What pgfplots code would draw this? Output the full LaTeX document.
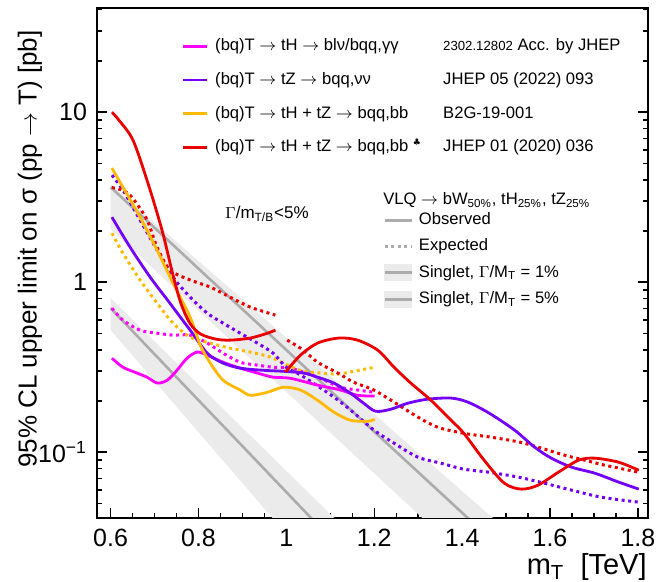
\documentclass[border=0pt]{standalone}
\usepackage{pgfplots}
\pgfplotsset{compat=1.18}
\usepackage{fontspec}
\setmainfont{Liberation Sans}
\newfontfamily\dejavu{DejaVu Sans}
\definecolor{cMag}{RGB}{255,0,255}
\definecolor{cPur}{RGB}{115,0,250}
\definecolor{cOra}{RGB}{255,185,0}
\definecolor{cRed}{RGB}{235,0,0}
\definecolor{cGray}{RGB}{172,172,172}
\definecolor{cBand}{RGB}{235,235,235}
\tikzset{obs/.style={line width=1.4pt, smooth, tension=0.5},
         expd/.style={line width=1.5pt, smooth, tension=0.5, dash pattern=on 1.5pt off 1.8pt}}
\begin{document}
\begin{tikzpicture}
\begin{axis}[
  scale only axis, width=275.5pt, height=255pt,
  xmin=0.569, xmax=1.823, ymin=0.041, ymax=41, ymode=log,
  xtick={0.6,0.8,1,1.2,1.4,1.6,1.8}, xticklabels={0.6,0.8,1,1.2,1.4,1.6,1.8},
  minor xtick={0.65,0.7,0.75,0.85,0.9,0.95,1.05,1.1,1.15,1.25,1.3,1.35,1.45,1.5,1.55,1.65,1.7,1.75},
  ytick={0.1,1,10}, yticklabels={10\textsuperscript{−1},1,10},
  minor ytick={0.05,0.06,0.07,0.08,0.09,0.2,0.3,0.4,0.5,0.6,0.7,0.8,0.9,2,3,4,5,6,7,8,9,20,30,40},
  xtick pos=bottom, ytick pos=both, tick align=inside,
  major tick length=5pt, minor tick length=2.6pt,
  axis line style={line width=1pt},
  every tick/.style={line width=0.7pt, black},
  /pgf/number format/assume math mode=true,
  tick label style={font=\fontsize{12.5}{14}\selectfont},
  xticklabel style={yshift=-2pt},
  yticklabel style={xshift=-1.5pt},
  legend style={at={(rel axis cs:0.1525,0.941)}, anchor=north west, draw=none, fill=none,
    inner sep=0pt, row sep=8.8pt, column sep=3.5pt, font=\fontsize{8.3}{10}\selectfont,
    nodes={inner sep=0pt, text height=6.2pt, text depth=1.8pt}},
  legend cell align=left,
  legend image code/.code={\draw[#1] (0pt,0pt) -- (12pt,0pt);},
]
% singlet bands
\addplot[fill=cBand, draw=none, forget plot] coordinates {(0.6,3.78)(0.7,2.24)(0.8,1.334)(0.9,0.793)(1.0,0.471)(1.1,0.280)(1.2,0.167)(1.3,0.0991)(1.4,0.0590)(1.5,0.0351)(1.6,0.0208)(1.6,0.00826)(1.5,0.0143)(1.4,0.0249)(1.3,0.0432)(1.2,0.0750)(1.1,0.130)(1.0,0.226)(0.9,0.392)(0.8,0.681)(0.7,1.182)(0.6,2.05)} -- cycle;
\addplot[fill=cBand, draw=none, forget plot] coordinates {(0.6,0.805)(0.7,0.448)(0.8,0.250)(0.9,0.139)(1.0,0.0776)(1.1,0.0432)(1.2,0.0241)(1.2,0.00828)(1.1,0.01654)(1.0,0.033)(0.9,0.0657)(0.8,0.131)(0.7,0.2615)(0.6,0.522)} -- cycle;
\addplot[cGray, line width=1.3pt, forget plot] coordinates {(0.6,3.62)(0.7,2.09)(0.8,1.20)(0.9,0.693)(1.0,0.399)(1.1,0.230)(1.2,0.132)(1.3,0.0763)(1.4,0.0440)(1.5,0.0253)};
\addplot[cGray, line width=1.3pt, forget plot] coordinates {(0.6,0.703)(0.7,0.377)(0.8,0.202)(0.9,0.1085)(1.0,0.0582)(1.1,0.0312)(1.2,0.0167)};
% expected
\addplot[expd, cMag, forget plot] coordinates {(0.603,0.703)(0.628,0.598)(0.667,0.522)(0.706,0.501)(0.742,0.488)(0.781,0.488)(0.820,0.438)(0.856,0.382)(0.895,0.338)(0.934,0.325)(0.970,0.316)(1.009,0.312)(1.071,0.276)(1.123,0.241)(1.162,0.232)(1.201,0.225)};
\addplot[expd, cOra, forget plot] coordinates {(0.603,1.94)(0.628,1.48)(0.667,1.03)(0.706,0.752)(0.742,0.574)(0.781,0.475)(0.827,0.438)(0.872,0.409)(0.918,0.388)(0.964,0.362)(1.002,0.325)(1.039,0.299)(1.078,0.292)(1.117,0.288)(1.153,0.299)(1.201,0.316)};
\addplot[expd, cPur, forget plot] coordinates {(0.603,4.26)(0.628,3.48)(0.667,2.32)(0.706,1.54)(0.742,1.07)(0.781,0.816)(0.820,0.657)(0.856,0.574)(0.895,0.501)(0.934,0.438)(0.970,0.382)(1.0,0.315)(1.032,0.285)(1.071,0.245)(1.108,0.211)(1.146,0.177)(1.199,0.135)(1.245,0.113)(1.299,0.0935)(1.352,0.0861)(1.404,0.0794)(1.461,0.0762)(1.528,0.0713)(1.587,0.0657)(1.649,0.0598)(1.718,0.0543)(1.802,0.0508)};
\addplot[expd, cRed, forget plot] coordinates {(0.603,3.6)(0.63,3.45)(0.651,3.1)(0.683,2.32)(0.706,1.6)(0.735,1.18)(0.781,1.03)(0.827,0.935)(0.872,0.816)(0.918,0.713)(0.975,0.640)};
\addplot[expd, cRed, forget plot] coordinates {(1.002,0.456)(1.039,0.398)(1.071,0.338)(1.117,0.292)(1.153,0.258)(1.199,0.232)(1.245,0.197)(1.299,0.161)(1.345,0.140)(1.404,0.129)(1.461,0.123)(1.528,0.115)(1.573,0.107)(1.633,0.096)(1.679,0.0897)(1.724,0.0839)(1.802,0.0762)};
% observed
\addplot[obs, cMag] coordinates {(0.603,0.357)(0.628,0.316)(0.660,0.292)(0.683,0.276)(0.706,0.255)(0.729,0.265)(0.751,0.303)(0.774,0.357)(0.797,0.388)(0.820,0.372)(0.856,0.338)(0.895,0.312)(0.934,0.292)(0.970,0.276)(1.009,0.272)(1.071,0.248)(1.123,0.232)(1.162,0.216)(1.201,0.214)};
\addlegendentry{\makebox[114pt][l]{(bq)T $\rightarrow$ tH $\rightarrow$ blν/bqq,γγ}{\fontsize{6.6}{8}\selectfont 2302.12802} Acc. by JHEP}
\addplot[obs, cPur] coordinates {(0.603,2.41)(0.644,1.61)(0.690,1.07)(0.735,0.752)(0.781,0.522)(0.820,0.382)(0.856,0.334)(0.895,0.312)(0.948,0.303)(0.993,0.299)(1.039,0.292)(1.071,0.276)(1.108,0.255)(1.146,0.222)(1.176,0.194)(1.203,0.174)(1.238,0.179)(1.276,0.194)(1.322,0.205)(1.375,0.208)(1.413,0.197)(1.461,0.170)(1.519,0.135)(1.565,0.107)(1.603,0.0922)(1.649,0.0816)(1.702,0.0752)(1.756,0.0667)(1.802,0.0606)};
\addlegendentry{\makebox[114pt][l]{(bq)T $\rightarrow$ tZ $\rightarrow$ bqq,νν}JHEP 05 (2022) 093}
\addplot[obs, cOra] coordinates {(0.603,4.69)(0.628,3.62)(0.667,2.41)(0.706,1.54)(0.742,0.987)(0.781,0.622)(0.804,0.426)(0.827,0.334)(0.856,0.265)(0.895,0.232)(0.918,0.216)(0.957,0.225)(0.993,0.241)(1.032,0.232)(1.071,0.202)(1.108,0.172)(1.146,0.154)(1.185,0.152)(1.201,0.156)};
\addlegendentry{\makebox[114pt][l]{(bq)T $\rightarrow$ tH + tZ $\rightarrow$ bqq,bb}B2G-19-001}
\addplot[obs, cRed] coordinates {(0.603,10.0)(0.62,8.9)(0.651,6.84)(0.685,3.82)(0.717,2.02)(0.742,1.10)(0.760,0.75)(0.781,0.57)(0.805,0.495)(0.840,0.462)(0.872,0.456)(0.918,0.469)(0.957,0.501)(0.975,0.522)};
\addlegendentry{\makebox[114pt][l]{(bq)T $\rightarrow$ tH + tZ $\rightarrow$ bqq,bb \raisebox{3pt}{\dejavu\fontsize{4.5}{5}\selectfont ♣}}JHEP 01 (2020) 036}
\addplot[obs, cRed, forget plot] coordinates {(0.998,0.296)(1.032,0.372)(1.071,0.438)(1.119,0.469)(1.162,0.456)(1.208,0.398)(1.245,0.316)(1.283,0.255)(1.329,0.202)(1.375,0.154)(1.404,0.129)(1.450,0.0897)(1.496,0.0657)(1.535,0.0606)(1.573,0.0640)(1.619,0.0762)(1.665,0.0897)(1.702,0.0922)(1.756,0.0873)(1.802,0.0783)};
\node[anchor=west, inner sep=0pt, font=\fontsize{8.3}{10}\selectfont] at (rel axis cs:0.519,0.623) {VLQ $\rightarrow$ bW\textsubscript{50\%}, tH\textsubscript{25\%}, tZ\textsubscript{25\%}};
\node[anchor=west, inner sep=0pt, font=\fontsize{8.5}{10}\selectfont] at (rel axis cs:0.232,0.596) {$\Gamma$/m\textsubscript{T/B}<5\%};
\end{axis}
\begin{axis}[
  scale only axis, width=275.5pt, height=255pt, hide axis,
  xmin=0, xmax=1, ymin=0, ymax=1,
  legend style={at={(rel axis cs:0.519,0.600)}, anchor=north west, draw=none, fill=none,
    inner sep=0pt, row sep=5pt, column sep=3pt, font=\fontsize{8.3}{10}\selectfont,
    nodes={inner sep=0pt, text height=6.2pt, text depth=1.8pt}},
  legend cell align=left,
  legend image code/.code={\draw[#1] (0pt,0pt) -- (13.5pt,0pt);},
]
\addlegendimage{color=cGray, line width=1.3pt}
\addlegendentry{Observed}
\addlegendimage{color=cGray, line width=1.3pt, dash pattern=on 1.5pt off 1.8pt}
\addlegendentry{Expected}
\addlegendimage{legend image code/.code={\fill[cBand] (0pt,-4pt) rectangle (13.5pt,4pt); \draw[cGray, line width=1.3pt] (0pt,0pt) -- (13.5pt,0pt);}}
\addlegendentry{Singlet, $\Gamma$/M\textsubscript{T} = 1\%}
\addlegendimage{legend image code/.code={\fill[cBand] (0pt,-4pt) rectangle (13.5pt,4pt); \draw[cGray, line width=1.3pt] (0pt,0pt) -- (13.5pt,0pt);}}
\addlegendentry{Singlet, $\Gamma$/M\textsubscript{T} = 5\%}
\end{axis}
\node[rotate=90, anchor=east, inner sep=0pt, font=\fontsize{13}{15}\selectfont] at (-33.5pt,244pt) {95\% CL upper limit on σ (pp $\rightarrow$ T) [pb]};
\node[anchor=base east, inner sep=0pt, font=\fontsize{14.5}{16}\selectfont] at (275pt,-28.5pt) {m\textsubscript{T}\ \ [TeV]};
\pgfresetboundingbox
\path (-48.5pt,-32pt) rectangle (282pt,259pt);
\end{tikzpicture}
\end{document}
